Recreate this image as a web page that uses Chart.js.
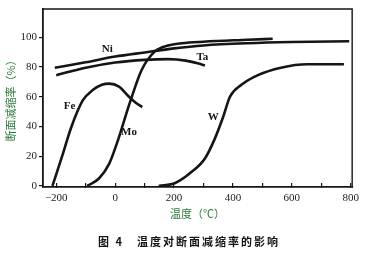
<!DOCTYPE html>
<html><head><meta charset="utf-8">
<script src="https://cdn.jsdelivr.net/npm/chart.js@4"></script>
<style>html,body{margin:0;padding:0;background:#fff}</style>
</head><body>
<canvas id="c" width="368" height="254"></canvas>
<script>
// ---- data ----
const xTicks = [-200, -100, 0, 100, 200, 300, 400, 500, 600, 700, 800];
const xTickLabels = ['−200', '', '0', '', '200', '', '400', '', '600', '', '800'];
const yTicks = [0, 20, 40, 60, 80, 100];

const niX = [-205, -100, 0, 100, 200, 300, 450, 600, 795];
const niY = [79.5, 83.2, 87, 89.8, 92.5, 94.5, 96, 96.8, 97.3];

const taX = [-200, -100, 0, 100, 180, 240, 280, 305];
const taY = [74.5, 79.5, 83, 84.8, 85.3, 84.3, 82.5, 81];

const feX = [-213, -180, -149, -110, -76, -45, -20, 13, 47, 70, 92];
const feY = [0, 20, 39.5, 57.5, 64.5, 68, 68.8, 66.8, 60, 56, 53];

const moX = [-95, -55, -20, 10, 50, 90, 135, 180, 227, 300, 450, 535];
const moY = [0, 5, 15, 31, 56, 78, 90.5, 94.5, 96, 97, 98.3, 99];

const wX = [148, 204, 260, 305, 339, 367, 390, 429, 485, 563, 653, 777];
const wY = [0, 2, 9.5, 18.5, 32, 46.5, 60, 68, 74.5, 79.5, 81.8, 81.8];

const seriesNames = ['Ni', 'Ta', 'Fe', 'Mo', 'W'];
const seriesX = [niX, taX, feX, moX, wX];
const seriesY = [niY, taY, feY, moY, wY];

// curve-label anchor points (data units)
const labelX = [-27, 296, -155, 47, 333];
const labelY = [92.1, 86.7, 53.8, 36.3, 46.4];

const xTitle = '温度（℃）';
const yTitle = '断面减缩率（%）';
const caption = '图 4　温度对断面减缩率的影响';

// ---- chart ----
const INK = '#151515';
const GREEN = '#2d7a3c';

const extras = {
  id: 'extras',
  afterDraw(chart) {
    const {ctx, chartArea: a, scales} = chart;
    ctx.save();
    // top & right frame
    ctx.strokeStyle = INK;
    ctx.lineWidth = 1.4;
    ctx.beginPath();
    ctx.moveTo(a.left, a.top);
    ctx.lineTo(a.right, a.top);
    ctx.lineTo(a.right, a.bottom);
    ctx.stroke();
    // curve labels
    ctx.fillStyle = INK;
    ctx.font = 'bold 11px "Liberation Serif"';
    ctx.textAlign = 'center';
    ctx.textBaseline = 'middle';
    seriesNames.forEach((n, i) => {
      ctx.fillText(n, scales.x.getPixelForValue(labelX[i]), scales.y.getPixelForValue(labelY[i]));
    });
    // caption
    ctx.font = 'bold 11px "Noto Sans CJK SC"';
    ctx.letterSpacing = '2px';
    ctx.fillText(caption, 189, 242);
    ctx.restore();
  }
};

new Chart(document.getElementById('c'), {
  type: 'line',
  data: {
    datasets: seriesNames.map((n, i) => ({
      label: n,
      data: seriesX[i].map((x, j) => ({x, y: seriesY[i][j]})),
      borderColor: INK,
      borderWidth: 2.6,
      pointRadius: 0,
      fill: false,
      cubicInterpolationMode: 'monotone'
    }))
  },
  options: {
    responsive: false,
    animation: false,
    devicePixelRatio: 1,
    layout: {padding: {top: 9, right: 12, left: 0, bottom: 0}},
    plugins: {legend: {display: false}, tooltip: {enabled: false}, title: {display: false}},
    scales: {
      x: {
        type: 'linear', min: -245, max: 805,
        afterBuildTicks: s => { s.ticks = xTicks.map(v => ({value: v})); },
        afterFit: s => { s.height = 67; },
        ticks: {
          callback: (v, i) => xTickLabels[i],
          autoSkip: false, maxRotation: 0, padding: 9,
          color: '#222', font: {family: '"Liberation Serif"', size: 11}
        },
        grid: {drawOnChartArea: false, drawTicks: true, tickLength: -4, color: INK, lineWidth: 1.2},
        border: {color: INK, width: 1.8},
        title: {display: true, text: xTitle, color: GREEN, font: {family: '"Noto Sans CJK SC"', size: 11}, padding: {top: 0, bottom: 34}}
      },
      y: {
        type: 'linear', min: -0.7, max: 119,
        afterBuildTicks: s => { s.ticks = yTicks.map(v => ({value: v})); },
        afterFit: s => { s.width = 43; },
        ticks: {
          padding: 2, color: '#222', font: {family: '"Liberation Serif"', size: 11}
        },
        grid: {drawOnChartArea: false, drawTicks: true, tickLength: 4, color: INK, lineWidth: 1.2},
        border: {color: INK, width: 1.8},
        title: {display: true, text: yTitle, color: GREEN, font: {family: '"Noto Sans CJK SC"', size: 11}, padding: {top: 4, bottom: 0}}
      }
    }
  },
  plugins: [extras]
});
</script>
</body></html>
